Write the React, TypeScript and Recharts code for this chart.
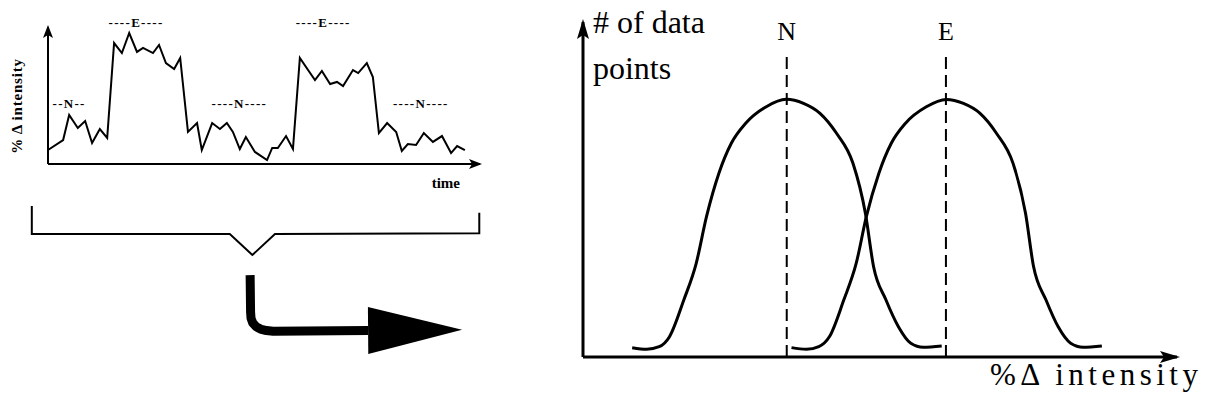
import React from 'react';
import { LineChart, Line, XAxis, YAxis, ReferenceDot, ReferenceLine } from 'recharts';

const FONT = '"Liberation Serif", "Times New Roman", serif';

// ---- Left panel: % change of intensity over time ----
const timeT = [0, 3.5, 4.9, 6.9, 8.6, 10.2, 12.0, 13.7, 15.3, 17.1, 18.8, 20.6, 22.0, 24.3, 25.7, 27.3, 29.2, 30.6, 32.4, 34.5, 35.6, 38.0, 39.8, 41.4, 42.8, 44.4, 45.8, 47.9, 50.7, 51.9, 53.2, 55.1, 56.7, 58.3, 60.2, 61.8, 63.4, 65.3, 66.9, 68.3, 70.6, 71.8, 73.8, 75.2, 76.6, 78.5, 80.6, 81.9, 83.3, 85.2, 87.0, 89.1, 91.2, 93.3, 94.7, 96.5];
const intensityV = [10.2, 17.5, 35.8, 26.3, 31.4, 15.3, 25.5, 19.0, 88.3, 81.0, 95.6, 81.8, 84.7, 81.0, 86.9, 73.7, 69.3, 77.4, 23.4, 29.9, 10.2, 29.9, 25.5, 29.9, 23.4, 10.9, 19.7, 8.8, 2.9, 11.7, 11.7, 20.4, 10.9, 77.4, 68.6, 61.3, 67.9, 58.4, 59.9, 56.9, 68.6, 66.4, 73.7, 63.5, 22.6, 29.9, 23.4, 9.5, 14.6, 13.9, 22.6, 16.1, 20.4, 8.0, 13.1, 10.2];

const blockLabels = ['--N--', '----E----', '----N----', '----E----', '----N----'];
const blockLabelT = [4.9, 20.4, 44.3, 63.7, 86.3];
const blockLabelV = [44.5, 103.6, 43.8, 103.6, 43.8];

// ---- Bracket and bent arrow (decoration) ----
const bracketX = [0.4, 0.4, 44.2, 49.2, 54.2, 99.4, 99.4];
const bracketY = [99.3, 80.9, 80.9, 67.1, 80.9, 81.4, 94.9];
const arrowX = [48.7, 48.8, 48.9, 49.3, 50.0, 51.0, 52.3, 53.8, 74.8];
const arrowY = [53.9, 29.6, 25.5, 22.3, 20.0, 18.4, 17.4, 16.9, 17.4];

// ---- Right panel: histograms of N and E ----
const nCurveX = [8.28, 10.72, 12.83, 14.56, 16.97, 19.06, 20.79, 22.88, 24.97, 27.39, 30.86, 34.21, 37.12, 39.9, 42.68, 45.45, 47.54, 48.92, 51.01, 53.1, 55.19, 57.27, 60.39];
const nCurveY = [2.78, 2.3, 3.07, 6.06, 17.01, 27.97, 41.88, 54.84, 63.79, 69.76, 74.72, 76.93, 75.73, 72.75, 66.78, 57.82, 42.9, 26.96, 17.01, 9.04, 4.09, 2.9, 3.28];
const eCurveX = [35.1, 37.6, 39.7, 41.5, 43.9, 46.0, 47.7, 49.8, 51.9, 54.3, 57.8, 61.15, 64.05, 66.8, 69.6, 72.4, 74.5, 75.85, 77.95, 80.0, 82.1, 84.2, 87.35];
const eCurveY = [2.8, 2.3, 3.1, 6.1, 17.0, 28.0, 41.9, 54.8, 63.8, 69.8, 74.7, 76.9, 75.7, 72.8, 66.8, 57.8, 42.9, 27.0, 17.0, 9.0, 4.1, 2.9, 3.3];
const peakLabels = ['N', 'E'];
const peakX = [34.3, 61.1];
const dashTop = 91;

const seriesData = timeT.map((t, i) => ({ t, v: intensityV[i] }));
const bracketData = bracketX.map((x, i) => ({ x, y: bracketY[i] }));
const arrowData = arrowX.map((x, i) => ({ x, y: arrowY[i] }));
const nData = nCurveX.map((x, i) => ({ x, y: nCurveY[i] }));
const eData = eCurveX.map((x, i) => ({ x, y: eCurveY[i] }));

type TL = {
  text: React.ReactNode;
  size: number;
  weight?: string;
  anchor?: string;
  baseline?: string;
  rotate?: number;
  spacing?: number;
};

const makeLabel = (o: TL) => (props: any) => {
  const vb = props.viewBox || {};
  const x = (vb.x ?? 0) + (vb.width || 0) / 2;
  const y = (vb.y ?? 0) + (vb.height || 0) / 2;
  return (
    <text
      x={x}
      y={y}
      fontFamily={FONT}
      fontSize={o.size}
      fontWeight={o.weight || 'normal'}
      textAnchor={o.anchor || 'middle'}
      dominantBaseline={o.baseline || 'central'}
      letterSpacing={o.spacing}
      transform={o.rotate ? `rotate(${o.rotate} ${x} ${y})` : undefined}
      fill="#000"
    >
      {o.text}
    </text>
  );
};

const textDot = (key: string, x: number, y: number, o: TL) => (
  <ReferenceDot
    key={key}
    x={x}
    y={y}
    r={0}
    fill="none"
    stroke="none"
    ifOverflow="visible"
    label={makeLabel(o)}
  />
);

export default function App() {
  return (
    <div style={{ position: 'absolute', left: 0, top: 0, width: 1207, height: 406, background: '#fff' }}>
      <svg width={0} height={0} style={{ position: 'absolute' }}>
        <defs>
          <marker id="arrowSmall" markerUnits="userSpaceOnUse" markerWidth={14} markerHeight={10} refX={11} refY={5} orient="auto-start-reverse" overflow="visible">
            <path d="M0,0 L13,5 L0,10 L3,5 Z" fill="#000" />
          </marker>
          <marker id="arrowBig" markerUnits="userSpaceOnUse" markerWidth={20} markerHeight={12} refX={17} refY={6} orient="auto-start-reverse" overflow="visible">
            <path d="M0,0 L20,6 L0,12 L4,6 Z" fill="#000" />
          </marker>
          <marker id="bigHead" markerUnits="userSpaceOnUse" markerWidth={94} markerHeight={47} refX={0} refY={23.5} orient="auto" overflow="visible">
            <path d="M0,0 L94,23.5 L0,47 Z" fill="#000" />
          </marker>
        </defs>
      </svg>

      {/* Left time series */}
      <div style={{ position: 'absolute', left: 0, top: 0 }}>
        <LineChart width={500} height={200} margin={{ top: 27, right: 20, bottom: 0, left: 0 }}>
          <XAxis
            type="number"
            dataKey="t"
            domain={[0, 100]}
            tick={false}
            tickLine={false}
            height={36}
            axisLine={{ stroke: '#000', strokeWidth: 2, markerEnd: 'url(#arrowSmall)' } as any}
          />
          <YAxis
            type="number"
            dataKey="v"
            domain={[0, 100]}
            tick={false}
            tickLine={false}
            width={48}
            axisLine={{ stroke: '#000', strokeWidth: 2, markerStart: 'url(#arrowSmall)' } as any}
          />
          <Line data={seriesData} dataKey="v" type="linear" stroke="#000" strokeWidth={2} dot={false} activeDot={false} isAnimationActive={false} />
          {blockLabels.map((s, i) =>
            textDot('bl' + i, blockLabelT[i], blockLabelV[i], { text: s, size: 13, weight: 'bold', spacing: 1.3 })
          )}
          {textDot('time', 92.1, -13.9, { text: 'time', size: 15, weight: 'bold' })}
          {textDot('ylab', -7.2, 42.3, { text: '%  Δ  intensity', size: 15, weight: 'bold', rotate: -90, spacing: 0.8 })}
        </LineChart>
      </div>

      {/* Bracket and bent arrow */}
      <div style={{ position: 'absolute', left: 0, top: 195 }}>
        <LineChart width={500} height={175} margin={{ top: 10, right: 18, bottom: 13, left: 30 }}>
          <XAxis type="number" dataKey="x" domain={[0, 100]} hide />
          <YAxis type="number" dataKey="y" domain={[0, 100]} hide />
          <Line data={bracketData} dataKey="y" type="linear" stroke="#000" strokeWidth={2} dot={false} activeDot={false} isAnimationActive={false} />
          <Line
            data={arrowData}
            dataKey="y"
            type="linear"
            stroke="#000"
            strokeWidth={9}
            strokeLinejoin="round"
            dot={false}
            activeDot={false}
            isAnimationActive={false}
            {...({ markerEnd: 'url(#bigHead)' } as any)}
          />
        </LineChart>
      </div>

      {/* Right histogram panel */}
      <div style={{ position: 'absolute', left: 540, top: 0 }}>
        <LineChart width={667} height={406} margin={{ top: 22, right: 30, bottom: 0, left: 0 }}>
          <XAxis
            type="number"
            dataKey="x"
            domain={[0, 100]}
            tick={false}
            tickLine={false}
            height={49}
            axisLine={{ stroke: '#000', strokeWidth: 3, markerEnd: 'url(#arrowBig)' } as any}
          />
          <YAxis
            type="number"
            dataKey="y"
            domain={[0, 100]}
            tick={false}
            tickLine={false}
            width={43}
            axisLine={{ stroke: '#000', strokeWidth: 3, markerStart: 'url(#arrowBig)' } as any}
          />
          {peakX.map((px, i) => (
            <ReferenceLine
              key={'pk' + i}
              segment={[{ x: px, y: 0 }, { x: px, y: dashTop }]}
              stroke="#000"
              strokeWidth={2}
              strokeDasharray="12 6"
              ifOverflow="visible"
            />
          ))}
          <Line data={nData} dataKey="y" type="monotone" stroke="#000" strokeWidth={3} dot={false} activeDot={false} isAnimationActive={false} />
          <Line data={eData} dataKey="y" type="monotone" stroke="#000" strokeWidth={3} dot={false} activeDot={false} isAnimationActive={false} />
          {peakLabels.map((s, i) => textDot('pl' + i, peakX[i], 97.3, { text: s, size: 26 }))}
          {textDot('yl1', 1.68, 96.7, { text: '# of data', size: 32, anchor: 'start', baseline: 'alphabetic' })}
          {textDot('yl2', 1.68, 83.0, { text: 'points', size: 32, anchor: 'start', baseline: 'alphabetic' })}
          {textDot('xl', 68.5, -8.4, { text: '%Δ intensity', size: 31, anchor: 'start', baseline: 'alphabetic', spacing: 4.5 })}
        </LineChart>
      </div>
    </div>
  );
}
